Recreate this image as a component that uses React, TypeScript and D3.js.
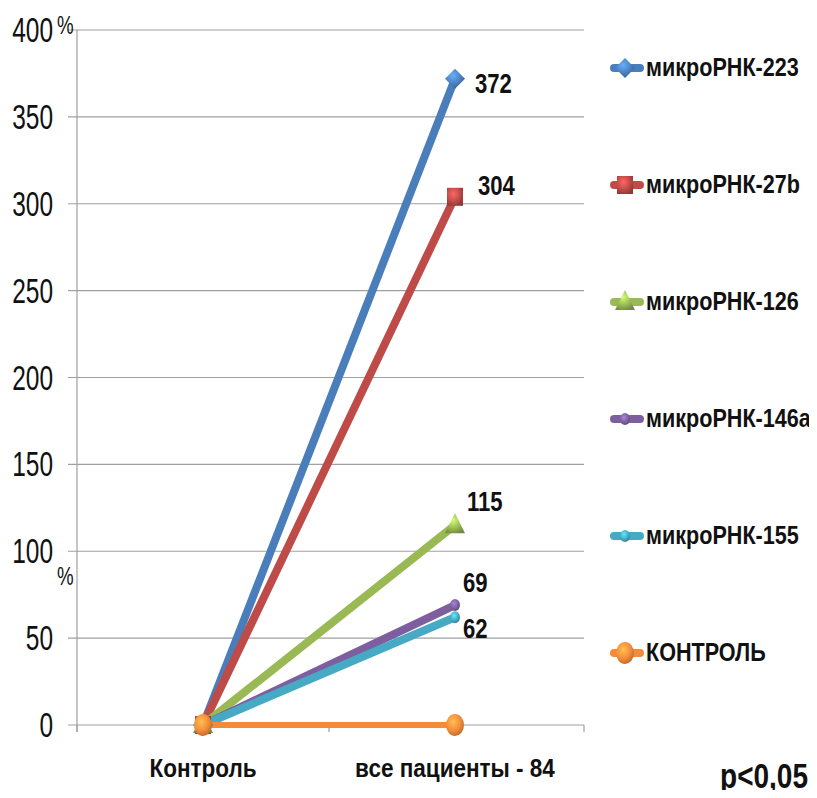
import { useEffect, useRef } from 'react';
import * as d3 from 'd3';

const categories = ['Контроль', 'все пациенты - 84'];
const seriesNames = ['микроРНК-223', 'микроРНК-27b', 'микроРНК-126', 'микроРНК-146a', 'микроРНК-155', 'КОНТРОЛЬ'];
const controlValues = [0, 0, 0, 0, 0, 0];
const patientValues = [372, 304, 115, 69, 62, 0];
const showLabel = [true, true, true, true, true, false];
const yTicks = [0, 50, 100, 150, 200, 250, 300, 350, 400];

const colors = ['#4a7ebb', '#be4b48', '#98b954', '#7d5fa0', '#46aac5', '#f38b3a'];
const markers = ['diamond', 'square', 'triangle', 'smallCircle', 'smallCircle', 'bigCircle'];
// label shift (dx, dy) relative to the point
const labelShift: [number, number][] = [[20, 4], [23, -12], [12, -24], [8, -23], [8, 11]];

const WIDTH = 817;
const HEIGHT = 798;
const FONT = '"Liberation Sans", Arial, sans-serif';

type G = d3.Selection<any, unknown, null, undefined>;

// the original uses a narrow font, so squeeze Liberation Sans horizontally
const addText = (
	parent: G,
	x: number,
	y: number,
	txt: string | number,
	size: number,
	sx: number,
	bold = false,
	anchor = 'start'
) =>
	parent
		.append('text')
		.attr('transform', `translate(${x},${y}) scale(${sx},1)`)
		.attr('text-anchor', anchor)
		.attr('font-family', FONT)
		.attr('font-weight', bold ? 'bold' : 'normal')
		.attr('font-size', size)
		.attr('fill', '#111')
		.text(txt);

const App = () => {
	const svgRef = useRef<SVGSVGElement>(null);

	useEffect(() => {
		if (!svgRef.current) return;
		const svg = d3.select(svgRef.current);
		svg.selectAll('*').remove();

		const x = d3.scaleBand<string>().domain(categories).range([77, 581]);
		const y = d3.scaleLinear().domain([0, 400]).range([725, 30]);
		const cx = (c: string) => (x(c) ?? 0) + x.bandwidth() / 2;

		const defs = svg.append('defs');
		colors.forEach((c, i) => {
			const g = defs
				.append('radialGradient')
				.attr('id', `grad${i}`)
				.attr('cx', '40%')
				.attr('cy', '35%')
				.attr('r', '70%');
			g.append('stop').attr('offset', '0%').attr('stop-color', d3.color(c)!.brighter(0.9).formatHex());
			g.append('stop').attr('offset', '60%').attr('stop-color', c);
			g.append('stop').attr('offset', '100%').attr('stop-color', d3.color(c)!.darker(0.8).formatHex());
		});

		// gridlines
		svg
			.append('g')
			.selectAll('line')
			.data(yTicks)
			.enter()
			.append('line')
			.attr('x1', 68)
			.attr('x2', 584)
			.attr('y1', (d) => y(d))
			.attr('y2', (d) => y(d))
			.attr('stroke', '#a0a0a0')
			.attr('stroke-width', 1.2);

		// y axis
		svg.append('line').attr('x1', 77).attr('x2', 77).attr('y1', y(400)).attr('y2', 732).attr('stroke', '#a0a0a0').attr('stroke-width', 1.2);
		[77, 329, 584].forEach((t) => {
			svg.append('line').attr('x1', t).attr('x2', t).attr('y1', 725).attr('y2', 732).attr('stroke', '#a0a0a0').attr('stroke-width', 1.2);
		});

		// y tick labels
		const tickG = svg.append('g');
		yTicks.forEach((t) => addText(tickG, 53, y(t) + 12, t, 35, 0.7, false, 'end'));

		addText(svg, 57, 34, '%', 26, 0.72);
		addText(svg, 57, 585, '%', 26, 0.72);

		// category labels
		const catG = svg.append('g');
		categories.forEach((c) => addText(catG, cx(c), 777, c, 26.5, 0.85, true, 'middle'));

		const drawMarker = (g: G, kind: string, px: number, py: number, i: number) => {
			const fill = `url(#grad${i})`;
			if (kind === 'diamond') {
				g.append('path')
					.attr('d', `M${px},${py - 10}L${px + 10},${py}L${px},${py + 10}L${px - 10},${py}Z`)
					.attr('fill', fill);
			} else if (kind === 'square') {
				g.append('rect').attr('x', px - 8).attr('y', py - 9).attr('width', 16).attr('height', 18).attr('fill', fill);
			} else if (kind === 'triangle') {
				g.append('path')
					.attr('d', `M${px},${py - 12}L${px + 10},${py + 8}L${px - 10},${py + 8}Z`)
					.attr('fill', fill);
			} else if (kind === 'smallCircle') {
				g.append('ellipse').attr('cx', px).attr('cy', py).attr('rx', 5).attr('ry', 6).attr('fill', fill);
			} else {
				g.append('ellipse').attr('cx', px).attr('cy', py).attr('rx', 9).attr('ry', 11).attr('fill', fill);
			}
		};

		const line = d3
			.line<[string, number]>()
			.x((d) => cx(d[0]))
			.y((d) => y(d[1]));

		const plot = svg.append('g');
		seriesNames.forEach((name, i) => {
			const pts: [string, number][] = [
				[categories[0], controlValues[i]],
				[categories[1], patientValues[i]],
			];
			plot
				.append('path')
				.attr('d', line(pts))
				.attr('fill', 'none')
				.attr('stroke', colors[i])
				.attr('stroke-width', i === 5 ? 6 : 8)
				.attr('stroke-linecap', 'round');
		});
		seriesNames.forEach((name, i) => {
			const g = plot.append('g');
			drawMarker(g, markers[i], cx(categories[0]), y(controlValues[i]), i);
			drawMarker(g, markers[i], cx(categories[1]), y(patientValues[i]), i);
			if (showLabel[i]) {
				const [dx, dy] = labelShift[i];
				addText(g, cx(categories[1]) + dx, y(patientValues[i]) + dy + 10, patientValues[i], 28, 0.79, true);
			}
		});

		// legend
		const legend = svg.append('g');
		seriesNames.forEach((name, i) => {
			const ly = 68 + i * 117;
			const g = legend.append('g');
			g.append('line')
				.attr('x1', 614)
				.attr('x2', 640)
				.attr('y1', ly)
				.attr('y2', ly)
				.attr('stroke', colors[i])
				.attr('stroke-width', 8)
				.attr('stroke-linecap', 'round');
			drawMarker(g, markers[i], 625, ly, i);
			addText(g, 646, ly + 8, name, 26.5, 0.815, true);
		});

		addText(svg, 808, 788, 'p<0,05', 35, 0.8, true, 'end');
	}, []);

	return (
		<div style={{ width: WIDTH, height: HEIGHT, margin: -8, background: '#fff' }}>
			<svg ref={svgRef} width={WIDTH} height={HEIGHT}></svg>
		</div>
	);
};

export default App;
